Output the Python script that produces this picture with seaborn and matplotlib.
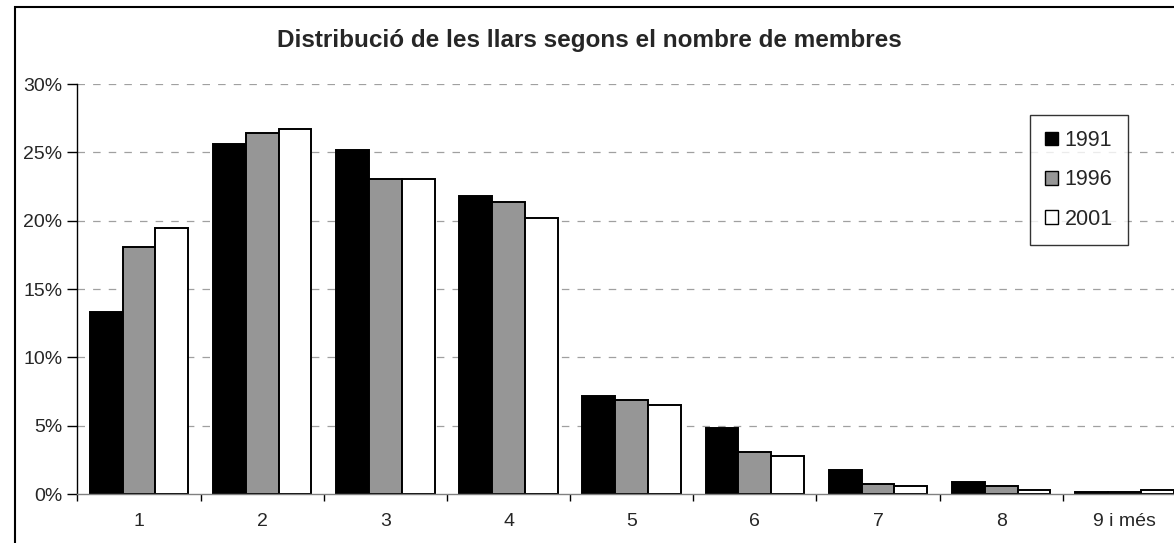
import pandas as pd
import numpy as np
import matplotlib
matplotlib.use("Agg")
import matplotlib.pyplot as plt
import matplotlib.patches as mpatches
from matplotlib.ticker import PercentFormatter, FixedLocator
import seaborn as sns

# Dades llegides del gràfic (percentatge de llars)
membres = ["1", "2", "3", "4", "5", "6", "7", "8", "9 i més"]
anys = ["1991", "1996", "2001"]
pct_1991 = [13.3, 25.6, 25.2, 21.8, 7.2, 4.85, 1.75, 0.9, 0.17]
pct_1996 = [18.1, 26.4, 23.05, 21.35, 6.9, 3.1, 0.75, 0.6, 0.17]
pct_2001 = [19.5, 26.7, 23.05, 20.2, 6.5, 2.8, 0.6, 0.3, 0.3]
colors = ["#000000", "#969696", "#ffffff"]

sns.set_theme(style="white")
plt.rcParams["font.family"] = ["Liberation Sans", "DejaVu Sans"]

df = pd.DataFrame({
    "membres": membres * 3,
    "any": np.repeat(anys, len(membres)),
    "pct": pct_1991 + pct_1996 + pct_2001,
})

fig = plt.figure(figsize=(11.74, 5.43), dpi=100)
ax = fig.add_axes([0.0660, 0.0902, 0.9442, 0.755])

sns.barplot(data=df, x="membres", y="pct", hue="any", palette=colors,
            edgecolor="black", linewidth=1.4, width=0.8, ax=ax, legend=False)

ax.set_xlim(-0.5, len(membres) - 0.5)
ax.set_ylim(0, 30)
ax.yaxis.set_major_locator(FixedLocator([0, 5, 10, 15, 20, 25, 30]))
ax.yaxis.set_major_formatter(PercentFormatter(xmax=100, decimals=0))
ax.set_xlabel("")
ax.set_ylabel("")

# graella discontínua
for v in [5, 10, 15, 20, 25, 30]:
    ax.axhline(v, color="#a0a0a0", lw=0.9, dashes=(6, 6.5), zorder=0)

for s in ["top", "right"]:
    ax.spines[s].set_visible(False)
ax.spines["left"].set_color("black")
ax.spines["left"].set_linewidth(1.0)
ax.spines["bottom"].set_color("#808080")
ax.spines["bottom"].set_linewidth(1.0)

ax.tick_params(axis="y", which="major", direction="out", length=7, width=1,
               color="black", pad=4, labelsize=14, left=True)
ax.xaxis.set_minor_locator(FixedLocator(np.arange(-0.5, len(membres), 1.0)))
ax.tick_params(axis="x", which="major", length=0, pad=14, labelsize=14)
ax.tick_params(axis="x", which="minor", direction="out", length=5, width=1,
               color="black", bottom=True)

handles = [mpatches.Rectangle((0, 0), 1, 1, facecolor=c, edgecolor="black", lw=1)
           for c in colors]
leg = ax.legend(handles, anys, loc="upper right",
                bbox_to_anchor=(1128 / 1174, 1 - 115 / 543),
                bbox_transform=fig.transFigure, fontsize=15.5,
                frameon=True, fancybox=False, edgecolor="black",
                handlelength=0.6, handleheight=0.6, handletextpad=0.3,
                labelspacing=0.85, borderpad=0.7, borderaxespad=0)
leg.get_frame().set_linewidth(1.0)

fig.text(0.502, 1 - 40 / 543, "Distribució de les llars segons el nombre de membres",
         ha="center", va="center", fontsize=17.5, fontweight="bold")

# marc del gràfic
fig.patches.append(mpatches.Rectangle((15 / 1174, -0.05), 1.2, 1 - 7 / 543 + 0.05,
                                      transform=fig.transFigure, fill=False,
                                      edgecolor="black", lw=1.5))

fig.savefig("out.png", dpi=100)
